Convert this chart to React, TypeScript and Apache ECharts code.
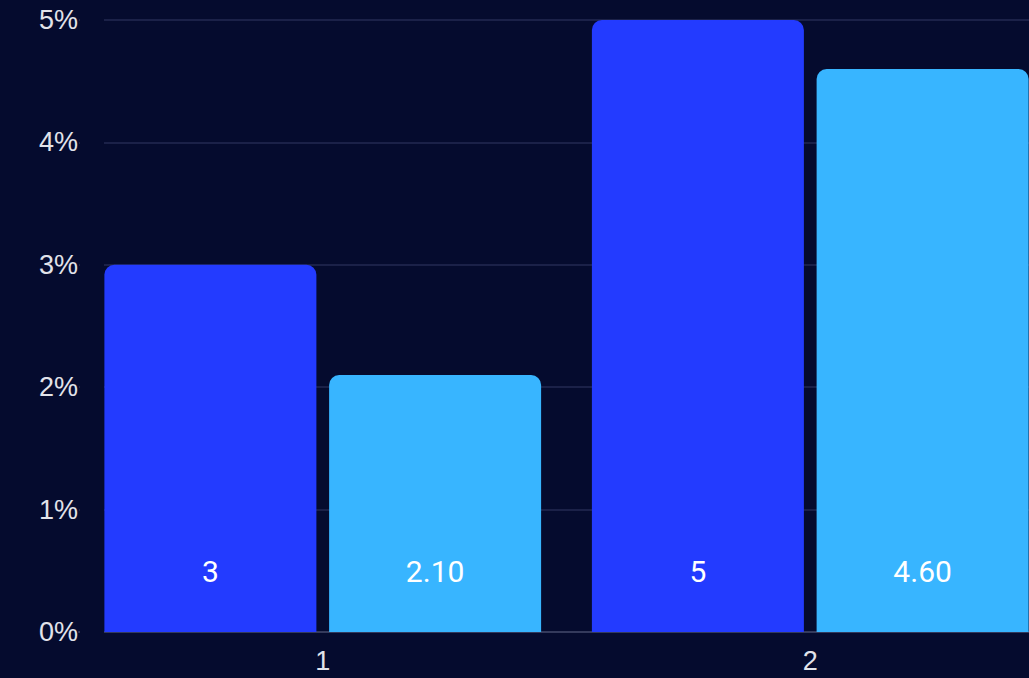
import React, { useEffect, useRef } from "react";
import * as echarts from "echarts";

const categories = ["1", "2"];
const seriesA = [3, 5];
const seriesB = [2.1, 4.6];
const yTicks = [0, 1, 2, 3, 4, 5];

export default function App() {
  const ref = useRef<HTMLDivElement>(null);
  useEffect(() => {
    if (!ref.current) return;
    const chart = echarts.init(ref.current, undefined, { renderer: "svg" });
    const labelStyle = {
      show: true,
      position: "insideBottom" as const,
      distance: 46,
      color: "#ffffff",
      fontFamily: "Roboto",
      fontSize: 30,
    };
    chart.setOption({
      animation: false,
      backgroundColor: "#050b2e",
      grid: { left: 79, right: 0, top: 20, bottom: 46 },
      xAxis: {
        type: "category",
        data: categories,
        axisTick: { show: false },
        axisLine: { lineStyle: { color: "#343a5c", width: 2 } },
        axisLabel: {
          color: "#e2e3ea",
          fontFamily: "Liberation Sans",
          fontSize: 27,
          margin: 15,
        },
      },
      yAxis: {
        type: "value",
        min: yTicks[0],
        max: yTicks[yTicks.length - 1],
        interval: 1,
        axisLabel: {
          color: "#e2e3ea",
          fontFamily: "Liberation Sans",
          fontSize: 27,
          margin: 1,
          formatter: (v: number) => `${v}%`,
        },
        splitLine: { lineStyle: { color: "#1b2148", width: 2 } },
        axisLine: { show: false },
        axisTick: { show: false },
      },
      graphic: [
        {
          type: "rect",
          z: 10,
          shape: { x: 80, y: 0, width: 24, height: 636 },
          style: { fill: "#050b2e" },
        },
      ],
      series: [
        {
          type: "bar",
          data: seriesA,
          barWidth: 212,
          barGap: "6%",
          itemStyle: { color: "#233bff", borderRadius: [10, 10, 0, 0] },
          label: { ...labelStyle, formatter: (p: any) => `${p.value}` },
          z: 3,
        },
        {
          type: "bar",
          data: seriesB,
          barWidth: 212,
          itemStyle: { color: "#38b5ff", borderRadius: [10, 10, 0, 0] },
          label: { ...labelStyle, formatter: (p: any) => Number(p.value).toFixed(2) },
          z: 3,
        },
      ],
    });
    return () => chart.dispose();
  }, []);
  return (
    <div
      style={{
        position: "fixed",
        left: 0,
        top: 0,
        width: 1029,
        height: 678,
        overflow: "hidden",
        background: "#050b2e",
      }}
    >
      <div ref={ref} style={{ width: 1054, height: 678 }} />
    </div>
  );
}
